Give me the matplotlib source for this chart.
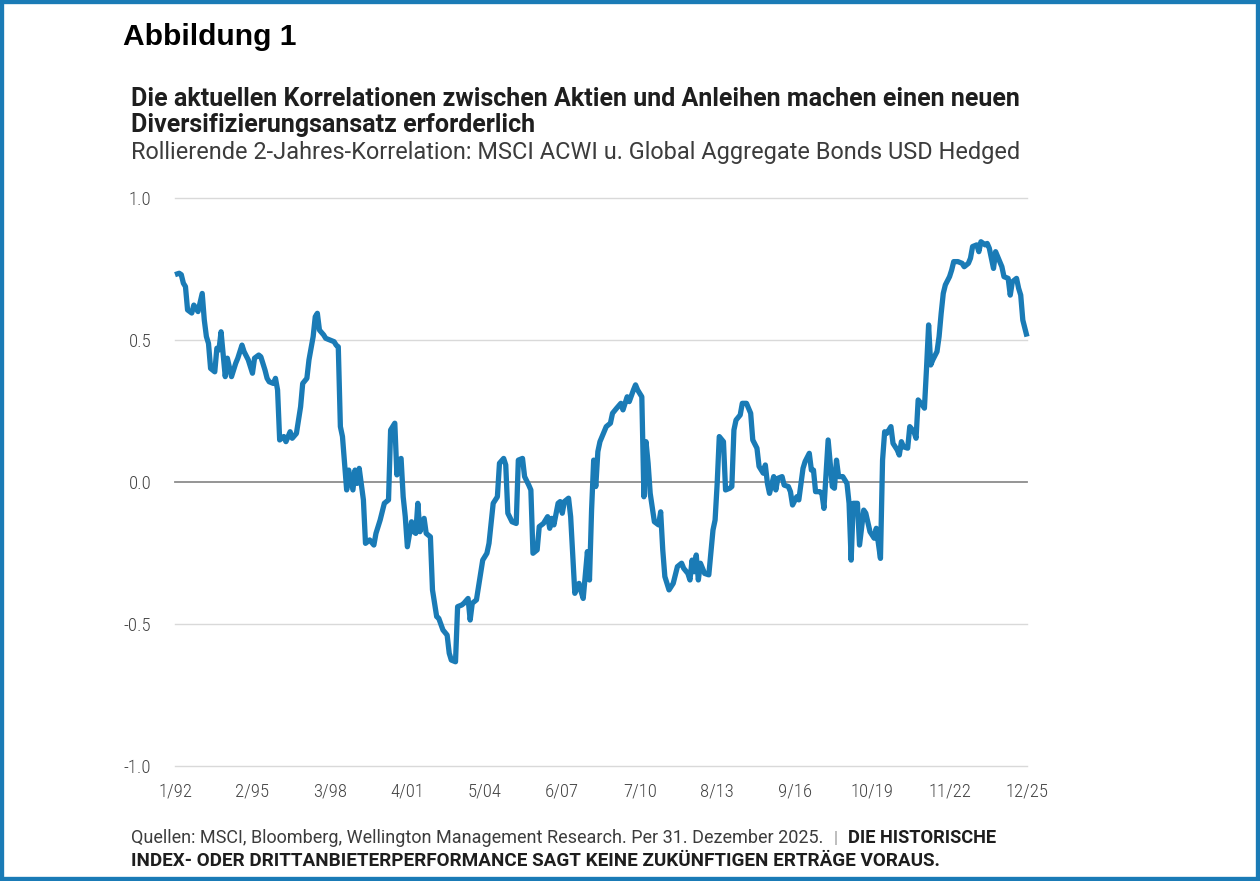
import matplotlib
matplotlib.use('Agg')
import matplotlib.pyplot as plt
from matplotlib.patches import Rectangle
from matplotlib import font_manager

# months since Jan 1992 and rolling 2-year correlation
months = [
    0, 2, 3, 4, 5, 6, 8, 9, 11, 13, 14, 15, 16, 17, 19, 20, 21, 22, 24, 25,
    27, 29, 30, 32, 33, 35, 37, 38, 40, 41, 43, 44, 45, 47, 48, 49, 50, 52, 53, 55,
    56, 58, 60, 61, 63, 64, 66, 67, 68, 69, 71, 72, 74, 76, 77, 78, 79, 80, 81, 82,
    83, 85, 86, 87, 88, 90, 91, 93, 95, 96, 98, 100, 102, 103, 104, 105, 106, 107, 108, 109,
    110, 111, 113, 114, 115, 116, 117, 119, 120, 122, 123, 124, 125, 126, 128, 130, 131, 132, 134, 135,
    137, 138, 140, 141, 142, 144, 147, 149, 150, 152, 154, 155, 157, 158, 159, 161, 163, 164, 166, 167,
    169, 170, 171, 173, 174, 176, 178, 179, 180, 181, 183, 184, 185, 186, 188, 189, 190, 191, 193, 194,
    195, 197, 198, 199, 200, 201, 202, 203, 205, 206, 208, 209, 211, 213, 214, 216, 217, 219, 220, 221,
    223, 224, 225, 226, 227, 229, 231, 232, 233, 234, 236, 238, 240, 242, 243, 245, 246, 247, 248, 249,
    250, 251, 253, 255, 257, 258, 259, 260, 262, 263, 265, 266, 267, 268, 270, 271, 273, 275, 276, 278,
    279, 281, 282, 283, 284, 286, 287, 288, 290, 291, 293, 294, 295, 297, 298, 300, 301, 303, 304, 305,
    306, 308, 309, 310, 312, 314, 315, 316, 317, 319, 321, 322, 323, 324, 326, 327, 329, 330, 332, 334,
    335, 337, 338, 339, 340, 342, 343, 345, 346, 347, 348, 350, 351, 353, 354, 355, 357, 358, 359, 360,
    361, 362, 364, 365, 366, 367, 368, 370, 371, 372, 374, 376, 377, 379, 380, 381, 383, 384, 385, 387,
    388, 389, 391, 392, 393, 395, 396, 398, 399, 400, 402, 403, 404, 405, 407,
]
corr = [
    0.73, 0.735, 0.73, 0.70, 0.688, 0.606, 0.595, 0.623, 0.60, 0.664, 0.57, 0.512, 0.488, 0.40, 0.388, 0.471, 0.465, 0.529, 0.371, 0.436,
    0.371, 0.418, 0.436, 0.482, 0.459, 0.43, 0.383, 0.436, 0.447, 0.441, 0.394, 0.365, 0.353, 0.347, 0.365, 0.324, 0.148, 0.16, 0.142, 0.177,
    0.154, 0.171, 0.265, 0.347, 0.365, 0.43, 0.512, 0.582, 0.594, 0.535, 0.518, 0.506, 0.50, 0.494, 0.482, 0.476, 0.195, 0.16, 0.066, -0.028,
    0.042, -0.028, 0.042, -0.005, 0.048, -0.063, -0.216, -0.204, -0.222, -0.181, -0.134, -0.075, -0.063, 0.183, 0.195, 0.207, 0.025, 0.077, 0.083, -0.052,
    -0.122, -0.228, -0.14, -0.175, -0.181, -0.075, -0.175, -0.128, -0.181, -0.193, -0.38, -0.427, -0.474, -0.48, -0.521, -0.539, -0.603, -0.627, -0.633, -0.439,
    -0.433, -0.427, -0.41, -0.486, -0.427, -0.415, -0.275, -0.251, -0.216, -0.075, -0.052, 0.066, 0.083, 0.06, -0.11, -0.14, -0.146, 0.077, 0.083, 0.019,
    -0.011, -0.028, -0.251, -0.239, -0.157, -0.146, -0.122, -0.163, -0.128, -0.151, -0.075, -0.069, -0.11, -0.069, -0.057, -0.122, -0.257, -0.392, -0.357, -0.386,
    -0.41, -0.245, -0.345, -0.099, 0.077, -0.016, 0.107, 0.142, 0.177, 0.195, 0.207, 0.242, 0.26, 0.277, 0.254, 0.30, 0.283, 0.324, 0.342, 0.324,
    0.30, -0.052, 0.142, 0.066, -0.04, -0.14, -0.151, -0.105, -0.239, -0.333, -0.38, -0.357, -0.298, -0.286, -0.304, -0.322, -0.345, -0.275, -0.316, -0.257,
    -0.345, -0.286, -0.322, -0.327, -0.169, -0.134, -0.005, 0.16, 0.142, -0.028, -0.022, -0.016, 0.183, 0.218, 0.236, 0.277, 0.277, 0.242, 0.148, 0.119,
    0.055, 0.031, 0.06, -0.005, -0.04, 0.019, -0.028, 0.013, 0.019, -0.011, -0.016, -0.034, -0.081, -0.052, -0.063, 0.048, 0.072, 0.101, 0.042, 0.042,
    -0.034, -0.034, -0.04, -0.093, 0.148, -0.016, -0.022, 0.077, 0.019, 0.019, -0.005, -0.075, -0.275, -0.075, -0.075, -0.222, -0.099, -0.11, -0.175, -0.198,
    -0.163, -0.269, 0.077, 0.177, 0.171, 0.195, 0.136, 0.113, 0.095, 0.142, 0.124, 0.119, 0.195, 0.177, 0.154, 0.289, 0.271, 0.26, 0.40, 0.553,
    0.412, 0.43, 0.459, 0.512, 0.594, 0.664, 0.694, 0.723, 0.746, 0.776, 0.776, 0.77, 0.758, 0.77, 0.788, 0.829, 0.835, 0.811, 0.846, 0.835,
    0.84, 0.823, 0.752, 0.811, 0.793, 0.758, 0.723, 0.717, 0.658, 0.705, 0.717, 0.682, 0.658, 0.57, 0.512,
]

tick_months = [0, 37, 74, 111, 148, 185, 222, 259, 296, 333, 370, 407]
tick_labels = ['1/92', '2/95', '3/98', '4/01', '5/04', '6/07', '7/10', '8/13',
               '9/16', '10/19', '11/22', '12/25']
y_ticks = [-1.0, -0.5, 0.0, 0.5, 1.0]

BLUE = '#1a7bb6'
W, H = 1260, 881

# pick fonts if they are there, else fall back
names = {f.name for f in font_manager.fontManager.ttflist}
def pick(cands):
    for c in cands:
        if c in names:
            return c
    return 'DejaVu Sans'
narrow = pick(['Roboto Condensed', 'Archivo Narrow', 'Barlow Semi Condensed'])
sans = pick(['Roboto', 'Lato', 'Open Sans'])
arial = pick(['Liberation Sans'])

fig = plt.figure(figsize=(W / 100, H / 100), dpi=100)
fig.patch.set_facecolor('white')

ax = fig.add_axes([175 / W, 1 - 766 / H, (1027 - 175) / W, (766 - 198) / H])
for y in y_ticks:
    if y == 0:
        ax.axhline(y, color='#8c8c8c', lw=1.3, zorder=1, clip_on=False)
    else:
        ax.axhline(y, color='#d9d9d9', lw=1.0, zorder=1, clip_on=False)
ax.plot(months, corr, color=BLUE, lw=3.8, solid_joinstyle='round',
        solid_capstyle='butt', zorder=3, clip_on=False)
ax.set_xlim(0, 407)
ax.set_ylim(-1.0, 1.0)
for s in ax.spines.values():
    s.set_visible(False)
ax.set_xticks(tick_months)
ax.set_xticklabels(tick_labels)
ax.set_yticks(y_ticks)
ax.set_yticklabels(['%.1f' % v for v in y_ticks])
ax.tick_params(length=0, colors='#444444', labelsize=13.5, pad=12)
ax.tick_params(axis='y', pad=17)
for lab in ax.get_xticklabels() + ax.get_yticklabels():
    lab.set_family(narrow)
    lab.set_weight('light')

def fy(px):
    return 1 - px / H

t0 = fig.text(123 / W, fy(45), 'Abbildung 1', family=arial, weight='bold',
              fontsize=20, color='black')
t1 = fig.text(131 / W, fy(106), 'Die aktuellen Korrelationen zwischen Aktien und Anleihen machen einen neuen',
              family=sans, weight='bold', fontsize=15, color='#1e1e1e')
t2 = fig.text(131 / W, fy(132), 'Diversifizierungsansatz erforderlich',
              family=sans, weight='bold', fontsize=15, color='#1e1e1e')
t3 = fig.text(131 / W, fy(159), 'Rollierende 2-Jahres-Korrelation: MSCI ACWI u. Global Aggregate Bonds USD Hedged',
              family=sans, weight='normal', fontsize=15, color='#3c3c3c')
f1 = fig.text(131 / W, fy(843), 'Quellen: MSCI, Bloomberg, Wellington Management Research. Per 31. Dezember 2025.',
              family=sans, weight='normal', fontsize=12, color='#3c3c3c')
f2 = fig.text(848 / W, fy(843), 'DIE HISTORISCHE', family=sans, weight='bold',
              fontsize=12, color='#1e1e1e')
f3 = fig.text(131 / W, fy(866), 'INDEX- ODER DRITTANBIETERPERFORMANCE SAGT KEINE ZUKÜNFTIGEN ERTRÄGE VORAUS.',
              family=sans, weight='bold', fontsize=12, color='#1e1e1e')
fig.text(834 / W, fy(843), '|', family=sans, fontsize=12, color='#999999')

# scale text to the widths measured in the reference
fig.canvas.draw()
r = fig.canvas.get_renderer()
for t, wpx in [(t0, 173), (t1, 894), (t3, 889), (f1, 691), (f2, 149), (f3, 809)]:
    w = t.get_window_extent(r).width
    t.set_fontsize(t.get_fontsize() * wpx / w)
t2.set_fontsize(t1.get_fontsize())

fig.patches.append(Rectangle((0, 0), 1, 1, transform=fig.transFigure, fill=False,
                             edgecolor=BLUE, linewidth=6, zorder=10))

fig.savefig('out.png', dpi=100, facecolor='white')
